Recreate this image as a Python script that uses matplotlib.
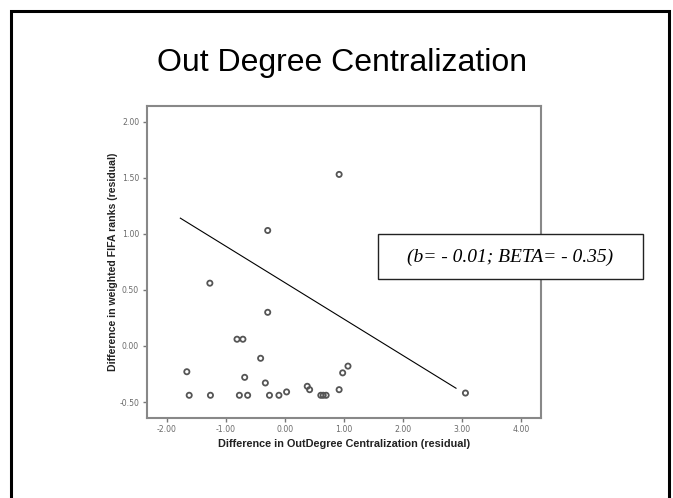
import matplotlib
matplotlib.use("Agg")
import matplotlib.pyplot as plt
from matplotlib.patches import Rectangle

# residuals
x_resid = [0.92, -0.29, -1.27, -0.29, -0.81, -0.71, -0.41, -1.66, -0.68, -0.33,
           1.07, 0.98, 0.38, 0.42, 0.92, 0.03, -1.62, -1.26, -0.77, -0.63,
           -0.26, -0.10, 0.61, 0.65, 0.70, 3.06]
y_resid = [1.53, 1.03, 0.56, 0.30, 0.06, 0.06, -0.11, -0.23, -0.28, -0.33,
           -0.18, -0.24, -0.36, -0.39, -0.39, -0.41, -0.44, -0.44, -0.44, -0.44,
           -0.44, -0.44, -0.44, -0.44, -0.44, -0.42]

# fit line end points
fit_x = [-1.77, 2.90]
fit_y = [1.14, -0.377]

x_ticks = [-2, -1, 0, 1, 2, 3, 4]
y_ticks = [-0.5, 0.0, 0.5, 1.0, 1.5, 2.0]

titulo = "Out Degree Centralization"
rotulo_x = "Difference in OutDegree Centralization (residual)"
rotulo_y = "Difference in weighted FIFA ranks (residual)"
anotacao = "(b= - 0.01; BETA= - 0.35)"

fig = plt.figure(figsize=(6.73, 4.98), dpi=100)
W, H = 673, 498

def fx(px):
    return px / W

def fy(py):
    return 1 - py / H

# slide border
fig.patches.append(Rectangle((fx(11.5), fy(520)), fx(668.5) - fx(11.5), fy(11) - fy(520),
                             transform=fig.transFigure, fill=False,
                             edgecolor="black", linewidth=2.2))

fig.text(fx(342), fy(71), titulo, ha="center", va="baseline",
         fontsize=23, family="Liberation Sans")

ax = fig.add_axes([fx(146.7), fy(417.7), fx(541) - fx(146.7), fy(105.7) - fy(417.7)])
ax.scatter(x_resid, y_resid, s=14, facecolors="none", edgecolors="#555555",
           linewidths=1.3, zorder=3)
ax.plot(fit_x, fit_y, color="black", linewidth=0.8)

ax.set_xlim(-2.34, 4.34)
ax.set_ylim(-0.64, 2.143)
ax.set_xticks(x_ticks)
ax.set_yticks(y_ticks)
ax.set_xticklabels([f"{v:.2f}" for v in x_ticks])
ax.set_yticklabels([f"{v:.2f}" for v in y_ticks])
ax.tick_params(direction="out", length=3, width=1, color="#777777",
               labelsize=5.6, labelcolor="#6a6a6a", pad=2.5)
for s in ax.spines.values():
    s.set_color("#888888")
    s.set_linewidth(1.5)

ax.set_xlabel(rotulo_x, fontsize=7.8, fontweight="bold", family="Liberation Sans",
              color="#222222", labelpad=3.5)
ax.set_ylabel(rotulo_y, fontsize=7.6, fontweight="bold", family="Liberation Sans",
              color="#222222", labelpad=1)

# caixa com o coeficiente
fig.patches.append(Rectangle((fx(378.3), fy(279)), fx(642.7) - fx(378.3), fy(234.3) - fy(279),
                             transform=fig.transFigure, facecolor="white",
                             edgecolor="#222222", linewidth=1, zorder=5))
fig.text(fx(510.5), fy(257), anotacao, ha="center", va="center", fontsize=14,
         family="Liberation Serif", style="italic", zorder=6)

fig.savefig("out.png", dpi=100)
